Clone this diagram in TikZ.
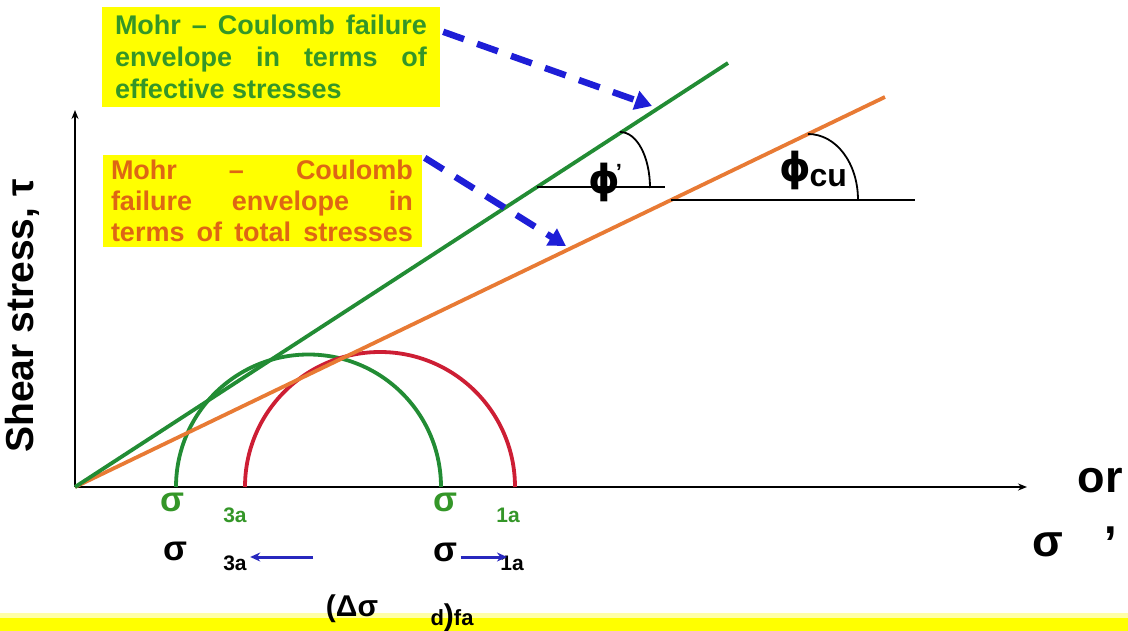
\documentclass[tikz,border=0pt]{standalone}
\usepackage{fontspec}
\setmainfont{Liberation Sans}
\newfontfamily\phifont{DejaVu Sans}
\usetikzlibrary{arrows.meta, calc}

\definecolor{envgreen}{RGB}{34,140,52}
\definecolor{txtgreen}{RGB}{52,150,40}
\definecolor{envorange}{RGB}{232,122,52}
\definecolor{txtorange}{RGB}{222,102,20}
\definecolor{circred}{RGB}{205,30,52}
\definecolor{hiyellow}{RGB}{255,255,0}
\definecolor{dashblue}{RGB}{30,30,215}
\definecolor{arrblue}{RGB}{40,40,190}

\newcommand{\jline}[2]{\makebox[#1][s]{#2}}

\begin{document}
\begin{tikzpicture}[
    x=1pt, y=-1pt,
    axis/.style={-{Stealth[length=9pt,width=7pt]}, line width=2pt, black},
    envelope/.style={line width=3.8pt},
    mohr/.style={line width=3.8pt},
    anglemark/.style={line width=1.8pt, black},
    note/.style={rectangle, fill=hiyellow, inner sep=0pt, align=left},
    pointer/.style={-{Triangle[length=17pt,width=19pt]}, line width=6.5pt, dashblue, dash pattern=on 22pt off 14pt},
    movearrow/.style={-{Stealth[length=10pt,width=9pt]}, line width=3pt, arrblue},
    sigma/.style={font=\bfseries\fontsize{35}{35}\selectfont},
    subtext/.style={font=\bfseries\fontsize{21}{21}\selectfont},
    phisym/.style={font=\phifont\bfseries\fontsize{40}{40}\selectfont},
    axislabel/.style={font=\bfseries\fontsize{45}{45}\selectfont, inner sep=0pt},
]
\useasboundingbox (0,0) rectangle (1128,631);

% Bottom strip
\fill[hiyellow!35] (0,613) rectangle (1128,618);
\fill[hiyellow] (0,618) rectangle (1128,631);

% Axes
\coordinate (O) at (75,487);
\coordinate (ytop) at (75,110);
\coordinate (xend) at (1027,487);
\draw[axis] (O) -- (ytop);
\draw[axis] (O) -- (xend);

% Mohr circles
\draw[mohr, envgreen] (176,487) arc[start angle=180, end angle=0, radius=132.5pt];
\draw[mohr, circred] (245,487) arc[start angle=180, end angle=0, radius=135pt];

% Failure envelopes
\coordinate (effend) at (728,63);
\coordinate (totend) at (885,97);
\draw[envelope, envorange] (O) -- (totend);
\draw[envelope, envgreen] (O) -- (effend);

% Friction angles
\draw[anglemark] (537,187) -- (665,187);
\draw[anglemark] (620,132) .. controls (637,132) and (650,157) .. (650,188);
\draw[anglemark] (671,200) -- (915,200);
\draw[anglemark] (808,134) .. controls (836,134) and (858,163) .. (858,200);
\node[phisym] (phieff) at (604,182) {ϕ};
\node[font=\bfseries\fontsize{22}{22}\selectfont] (phiprime) at (619,172) {'};
\node[phisym] (phicu) at (795,170) {ϕ};
\node[font=\bfseries\fontsize{32}{32}\selectfont, anchor=west] (cu) at (806,178) {cu};

% Notes
\node[note, text=txtgreen, font=\bfseries\fontsize{27}{32}\selectfont, minimum width=338pt, minimum height=100pt] (effnote) at (271,57)
    {\jline{312pt}{Mohr – Coulomb failure}\\ \jline{312pt}{envelope in terms of}\\ effective stresses};
\node[note, text=txtorange, font=\bfseries\fontsize{27}{31}\selectfont, minimum width=319pt, minimum height=92pt] (totnote) at (262,201)
    {\jline{302pt}{Mohr \hfill – \hfill Coulomb}\\ \jline{302pt}{failure envelope in}\\ \jline{302pt}{terms of total stresses}};

% Pointers
\coordinate (effhit) at (652,106);
\coordinate (tothit) at (566,246);
\draw[pointer] ($(effnote.north east)+(3,25)$) -- (effhit);
\draw[pointer] ($(totnote.north east)+(3,3)$) -- (tothit);

% Stress labels
\node[sigma, text=txtgreen] (sig3g) at (172,502) {σ};
\node[subtext, text=txtgreen] (sub3g) at (235,515) {3a};
\node[sigma, text=txtgreen] (sig1g) at (445,502) {σ};
\node[subtext, text=txtgreen] (sub1g) at (508,515) {1a};
\node[sigma] (sig3b) at (175,551) {σ};
\node[subtext] (sub3b) at (235,563) {3a};
\node[sigma] (sig1b) at (445,552) {σ};
\node[subtext] (sub1b) at (512,563) {1a};
\coordinate (m3) at (313,557);
\coordinate (m1) at (507,557);
\draw[movearrow] (m3) -- (sub3b.east |- m3);
\draw[movearrow] (sig1b.east |- m1) -- (m1);

% Deviator stress
\node[font=\bfseries\fontsize{30}{30}\selectfont] (dev) at (352,609) {(Δσ};
\node[font=\bfseries\fontsize{22}{22}\selectfont, anchor=base west] (devsub) at (427,625)
    {d{\fontsize{30}{30}\selectfont )}fa};

% Axis labels
\node[axislabel] (orlabel) at (1100,481) {or};
\node[axislabel] (sigx) at (1048,545) {σ};
\node[axislabel] (comma) at (1111,534) {,};
\node[rotate=90, font=\bfseries\fontsize{39}{39}\selectfont] (ylabel) at (22,316) {Shear stress, τ};

\end{tikzpicture}
\end{document}
